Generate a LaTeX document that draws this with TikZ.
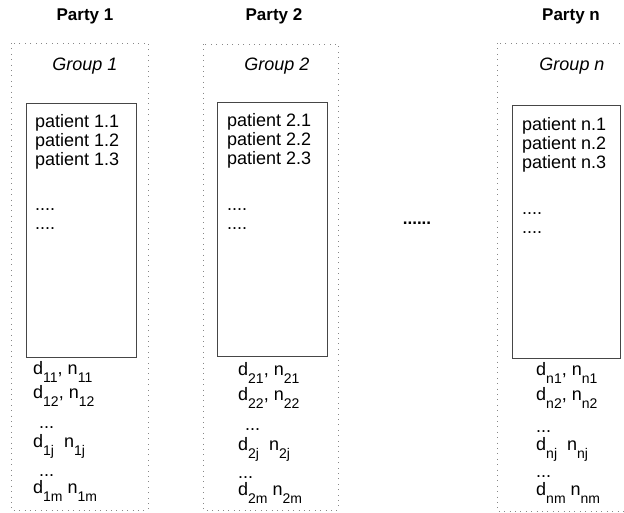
\documentclass[tikz,border=0pt]{standalone}
\usepackage{fontspec}
\setmainfont{Liberation Sans}
\definecolor{dotgray}{RGB}{135, 135, 135}
\definecolor{boxgray}{RGB}{70, 70, 70}
\newcommand{\lowidx}[1]{\raisebox{-8pt}{\fontsize{14}{14}\selectfont #1}}

\begin{document}
\begin{tikzpicture}[x=1pt,y=-1pt,
    party/.style={anchor=base, inner sep=0pt, font=\fontsize{17}{19}\selectfont\bfseries},
    grouplabel/.style={anchor=base, inner sep=0pt, font=\fontsize{18}{19}\selectfont\itshape},
    entry/.style={anchor=base west, inner sep=0pt, font=\fontsize{18}{19}\selectfont},
    groupbox/.style={dotgray, line width=0.8pt, dash pattern=on 0.8pt off 4.6pt},
    patientbox/.style={boxgray, line width=1pt}]
            \useasboundingbox                                          (0, 0) rectangle (624, 512);
            \clip                                                      (0, 0) rectangle (624, 512);
            % party 1
            \node[party]      (party1)   at ( 85,  20) {Party 1};
            \draw[groupbox]                                            ( 11, 43) rectangle (148, 510);
            \node[grouplabel] (group1)   at ( 85,  70) {Group 1};
            \draw[patientbox]                                          ( 26, 103) rectangle (136, 357);
            \node[entry]      (p11)      at ( 35, 127) {patient 1.1};
            \node[entry]      (p12)      at ( 35, 146) {patient 1.2};
            \node[entry]      (p13)      at ( 35, 165) {patient 1.3};
            \node[entry]      (p1dotsa)  at ( 35, 210) {....};
            \node[entry]      (p1dotsb)  at ( 35, 229) {....};
            \node[entry]      (dn11)     at ( 33, 374) {d\lowidx{11}, n\lowidx{11}};
            \node[entry]      (dn12)     at ( 33, 398) {d\lowidx{12}, n\lowidx{12}};
            \node[entry]      (dn1dotsa) at ( 39, 428) {...};
            \node[entry]      (dn1j)     at ( 33, 447) {d\lowidx{1j}\phantom{,} n\lowidx{1j}};
            \node[entry]      (dn1dotsb) at ( 39, 476) {...};
            \node[entry]      (dn1m)     at ( 33, 493) {d\lowidx{1m} n\lowidx{1m}};
            % party 2
            \node[party]      (party2)   at (274,  20) {Party 2};
            \draw[groupbox]                                            (203, 44) rectangle (338, 510);
            \node[grouplabel] (group2)   at (277,  70) {Group 2};
            \draw[patientbox]                                          (217, 102) rectangle (327, 356);
            \node[entry]      (p21)      at (227, 126) {patient 2.1};
            \node[entry]      (p22)      at (227, 145) {patient 2.2};
            \node[entry]      (p23)      at (227, 164) {patient 2.3};
            \node[entry]      (p2dotsa)  at (227, 210) {....};
            \node[entry]      (p2dotsb)  at (227, 229) {....};
            \node[entry]      (dn21)     at (238, 375) {d\lowidx{21}, n\lowidx{21}};
            \node[entry]      (dn22)     at (238, 400) {d\lowidx{22}, n\lowidx{22}};
            \node[entry]      (dn2dotsa) at (245, 430) {...};
            \node[entry]      (dn2j)     at (238, 450) {d\lowidx{2j}\phantom{,} n\lowidx{2j}};
            \node[entry]      (dn2dotsb) at (238, 478) {...};
            \node[entry]      (dn2m)     at (238, 495) {d\lowidx{2m} n\lowidx{2m}};
            % the parties in between
            \node[party]      (between)  at (417, 224) {......};
            % party n
            \node[party]      (partyn)   at (571,  20) {Party n};
            \draw[groupbox]                                            (497, 43) rectangle (660, 511);
            \node[grouplabel] (groupn)   at (572,  70) {Group n};
            \draw[patientbox]                                          (512, 105) rectangle (620, 358);
            \node[entry]      (pn1)      at (522, 130) {patient n.1};
            \node[entry]      (pn2)      at (522, 149) {patient n.2};
            \node[entry]      (pn3)      at (522, 168) {patient n.3};
            \node[entry]      (pndotsa)  at (522, 214) {....};
            \node[entry]      (pndotsb)  at (522, 233) {....};
            \node[entry]      (dnn1)     at (536, 375) {d\lowidx{n1}, n\lowidx{n1}};
            \node[entry]      (dnn2)     at (536, 400) {d\lowidx{n2}, n\lowidx{n2}};
            \node[entry]      (dnndotsa) at (536, 432) {...};
            \node[entry]      (dnnj)     at (536, 450) {d\lowidx{nj}\phantom{,} n\lowidx{nj}};
            \node[entry]      (dnndotsb) at (536, 477) {...};
            \node[entry]      (dnnm)     at (536, 495) {d\lowidx{nm} n\lowidx{nm}};
        \end{tikzpicture}
\end{document}
